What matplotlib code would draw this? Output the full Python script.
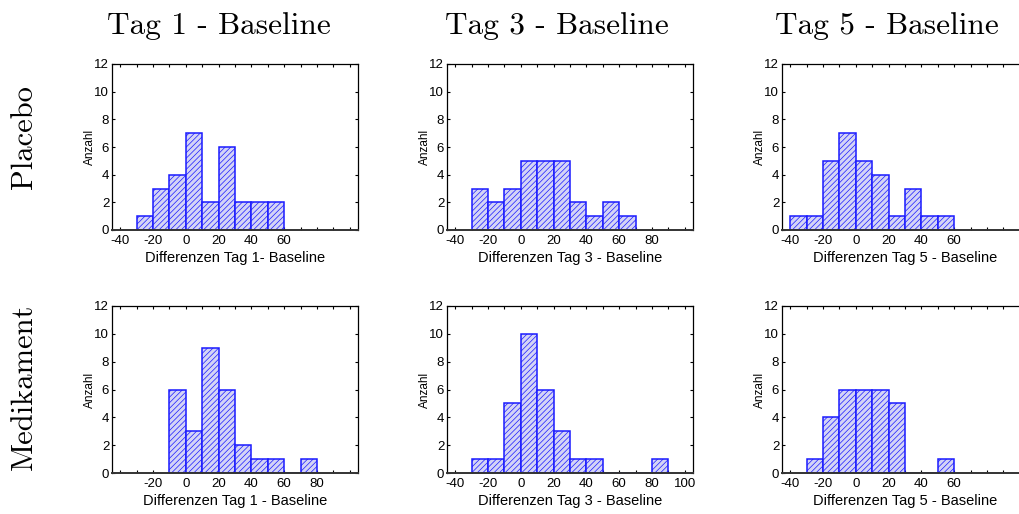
import matplotlib
matplotlib.use("Agg")
import matplotlib.pyplot as plt
from matplotlib.ticker import MultipleLocator

plt.rcParams['hatch.linewidth'] = 0.5

W, H = 1019, 514

# bin left edges (width 10) and counts
p1_edges = [-30, -20, -10, 0, 10, 20, 30, 40, 50]
p1_counts = [1, 3, 4, 7, 2, 6, 2, 2, 2]
p3_edges = [-30, -20, -10, 0, 10, 20, 30, 40, 50, 60]
p3_counts = [3, 2, 3, 5, 5, 5, 2, 1, 2, 1]
p5_edges = [-40, -30, -20, -10, 0, 10, 20, 30, 40, 50]
p5_counts = [1, 1, 5, 7, 5, 4, 1, 3, 1, 1]
m1_edges = [-10, 0, 10, 20, 30, 40, 50, 60, 70]
m1_counts = [6, 3, 9, 6, 2, 1, 1, 0, 1]
m3_edges = [-30, -20, -10, 0, 10, 20, 30, 40, 50, 60, 70, 80]
m3_counts = [1, 1, 5, 10, 6, 3, 1, 1, 0, 0, 0, 1]
m5_edges = [-30, -20, -10, 0, 10, 20, 30, 40, 50]
m5_counts = [1, 4, 6, 6, 6, 5, 0, 0, 1]

p1_ticks = [-40, -20, 0, 20, 40, 60]
p3_ticks = [-40, -20, 0, 20, 40, 60, 80]
p5_ticks = [-40, -20, 0, 20, 40, 60]
m1_ticks = [-20, 0, 20, 40, 60, 80]
m3_ticks = [-40, -20, 0, 20, 40, 60, 80, 100]
m5_ticks = [-40, -20, 0, 20, 40, 60]

col_titles = ["Tag 1 - Baseline", "Tag 3 - Baseline", "Tag 5 - Baseline"]
row_titles = ["Placebo", "Medikament"]
xlabels = [["Differenzen Tag 1- Baseline", "Differenzen Tag 3 - Baseline", "Differenzen Tag 5 - Baseline"],
           ["Differenzen Tag 1 - Baseline", "Differenzen Tag 3 - Baseline", "Differenzen Tag 5 - Baseline"]]
ylabel = "Anzahl"

data = [[(p1_edges, p1_counts, p1_ticks), (p3_edges, p3_counts, p3_ticks), (p5_edges, p5_counts, p5_ticks)],
        [(m1_edges, m1_counts, m1_ticks), (m3_edges, m3_counts, m3_ticks), (m5_edges, m5_counts, m5_ticks)]]

fig = plt.figure(figsize=(W / 100, H / 100), dpi=100)

col_left = [112, 447, 782]
row_top = [64, 306]
row_bot = [230, 473]
ax_w = 246

sans = ['Liberation Sans', 'DejaVu Sans']
serif = ['cmr10', 'DejaVu Serif']

for r in range(2):
    for c in range(3):
        edges, counts, ticks = data[r][c]
        ax = fig.add_axes([col_left[c] / W, 1 - row_bot[r] / H, ax_w / W, (row_bot[r] - row_top[r]) / H])
        ax.bar(edges, counts, width=10, align='edge', facecolor='#d4d4f6', edgecolor='#1a1aff',
               hatch='//////', linewidth=1.1, zorder=2)
        ax.set_xlim(-45, 105)
        ax.set_ylim(0, 12)
        ax.set_xticks(ticks)
        ax.set_xticklabels([str(t) for t in ticks], fontfamily=sans, fontsize=9.5)
        ax.xaxis.set_minor_locator(MultipleLocator(10))
        ax.yaxis.set_major_locator(MultipleLocator(2))
        for lab in ax.get_yticklabels():
            lab.set_fontfamily(sans)
            lab.set_fontsize(9.5)
        ax.tick_params(axis='both', which='both', direction='in', top=True, right=True,
                       length=2.5, width=0.8)
        ax.tick_params(axis='x', which='both', pad=3.5)
        ax.tick_params(axis='y', which='both', pad=2)
        ax.tick_params(axis='x', which='minor', length=2)
        for sp in ax.spines.values():
            sp.set_linewidth(0.9)
        ax.spines['bottom'].set_linewidth(1.4)
        ax.spines['bottom'].set_color('#333333')
        ax.set_xlabel(xlabels[r][c], fontfamily=sans, fontsize=10.5, labelpad=3)
        ax.set_ylabel(ylabel, fontfamily=sans, fontsize=8.5, labelpad=-1)

title_x = [219, 557, 887]
for c in range(3):
    fig.text(title_x[c] / W, 1 - 26 / H, col_titles[c], fontfamily=serif, fontsize=22.5,
             ha='center', va='center')
row_y = [137, 387]
for r in range(2):
    fig.text(24 / W, 1 - row_y[r] / H, row_titles[r], fontfamily=serif, fontsize=22,
             ha='center', va='center', rotation=90)

fig.savefig("out.png", dpi=100)
